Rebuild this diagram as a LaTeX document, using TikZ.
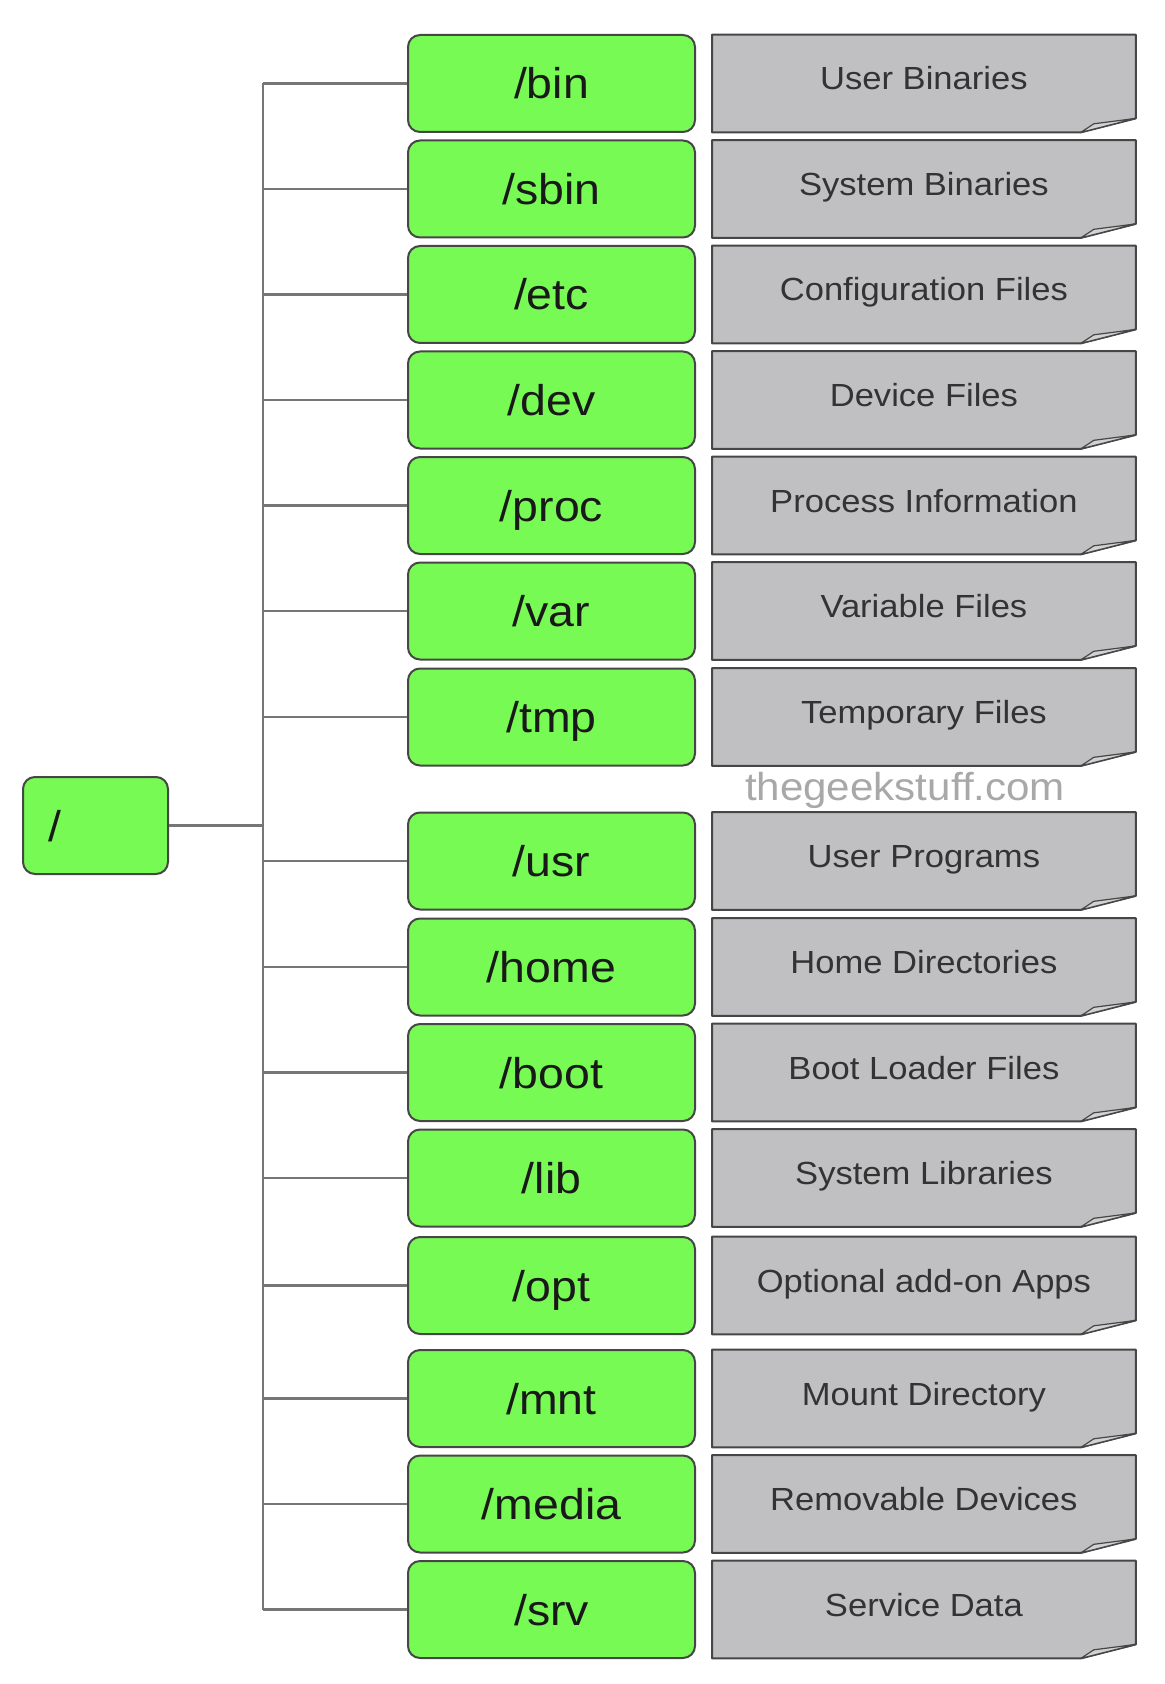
\documentclass[tikz,border=0pt]{standalone}
\usepackage{fontspec}
\setmainfont{Liberation Sans}[FakeStretch=1.08]
\usetikzlibrary{positioning}

\definecolor{dirgreen}{RGB}{120,250,85}
\definecolor{infogray}{RGB}{192,192,194}
\definecolor{flapgray}{RGB}{210,210,212}
\definecolor{edgegray}{RGB}{70,70,70}
\definecolor{linegray}{RGB}{118,118,118}
\definecolor{markgray}{RGB}{168,168,168}

\begin{document}
\begin{tikzpicture}[x=0.5pt, y=-0.5pt,
    dirbox/.style={draw=edgegray, fill=dirgreen, line width=1pt, rounded corners=6pt,
        minimum width=143.5pt, minimum height=48.5pt, inner sep=0pt, text=black!90,
        font=\fontsize{21.5}{24}\selectfont, text height=19pt, text depth=3.5pt},
    infobox/.style={fill=infogray, minimum width=211.5pt, minimum height=48.5pt,
        inner sep=0pt, text=black!80, font=\fontsize{16}{19}\selectfont,
        text height=12pt, text depth=5.5pt},
    infoedge/.style={draw=edgegray, line width=1pt, line join=round},
    branch/.style={draw=linegray, line width=1.25pt}]
    \useasboundingbox (0,0) rectangle (1164,1684);

    % Directories and what they hold
    \foreach \y/\dname/\info in {
        83.5/bin/User Binaries, 189/sbin/System Binaries,
        294.5/etc/Configuration Files, 400/dev/Device Files,
        505.5/proc/Process Information, 611/var/Variable Files,
        717/tmp/Temporary Files, 861/usr/User Programs,
        967/home/Home Directories, 1072.5/boot/Boot Loader Files,
        1178/lib/System Libraries, 1285.5/opt/Optional add-on Apps,
        1398.5/mnt/Mount Directory, 1504/media/Removable Devices,
        1609.5/srv/Service Data
    } {
        \node[dirbox] (d-\dname) at (551.5,\y) {/\dname};
        \node[infobox, right=8pt of d-\dname] (i-\dname) {\info};
        % cut the corner and fold it
        \fill[white] (i-\dname.south east) -- ([yshift=7pt]i-\dname.south east)
            -- ([xshift=-27.5pt]i-\dname.south east) -- cycle;
        \draw[infoedge] (i-\dname.north west) -- (i-\dname.north east)
            -- ([yshift=7pt]i-\dname.south east) -- ([xshift=-27.5pt]i-\dname.south east)
            -- (i-\dname.south west) -- cycle;
        \filldraw[infoedge, fill=flapgray, line width=0.6pt] ([xshift=-27.5pt]i-\dname.south east)
            -- ([yshift=7pt]i-\dname.south east) -- ([xshift=-21pt,yshift=4.3pt]i-\dname.south east) -- cycle;
    }

    % Root of the tree
    \node[dirbox, minimum width=72.5pt, text width=47.5pt, inner xsep=12.5pt, align=left]
        (root) at (95.5,825.5) {/};
    \node[text=markgray, font=\fontsize{19.5}{22}\selectfont] (mark) at (905,790) {thegeekstuff.com};

    % Connectors
    \coordinate (spine) at (263,0);
    \draw[branch] (d-bin.west -| spine) -- (d-srv.west -| spine);
    \draw[branch] (root.east) -- (root.east -| spine);
    \foreach \dname in {bin,sbin,etc,dev,proc,var,tmp,usr,home,boot,lib,opt,mnt,media,srv}
        \draw[branch] (d-\dname.west) -- (d-\dname.west -| spine);
\end{tikzpicture}
\end{document}
